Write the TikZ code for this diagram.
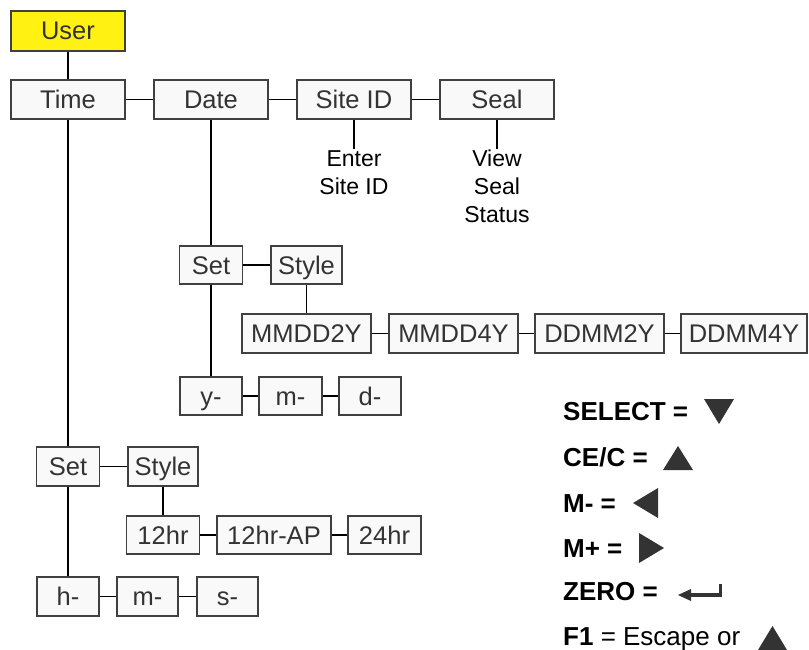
\documentclass[tikz,border=0pt]{standalone}
\usepackage{fontspec}
\setmainfont{Liberation Sans}
\definecolor{Ink}{HTML}{333333}
\definecolor{Frame}{HTML}{404040}
\definecolor{Paper}{HTML}{F9F9F9}
\definecolor{Flag}{HTML}{FFF212}
\tikzset{
  menubox/.style={draw=Frame,fill=Paper,text=Ink,line width=1.3pt,inner sep=0pt,
    minimum height=38,text height=18pt,text depth=0pt,font=\fontsize{25.5}{30}\selectfont},
  link/.style={line width=1.6pt,draw=black},
  notetext/.style={align=center,inner sep=1pt,font=\fontsize{23}{28}\selectfont},
  keytext/.style={anchor=west,inner sep=0pt,text height=18pt,text depth=0pt,
    font=\fontsize{26}{30}\selectfont},
  keymark/.style={fill=Ink,draw=none},
}

\begin{document}
\begin{tikzpicture}[x=1pt,y=-1pt]
    \useasboundingbox (0,0) rectangle (809,650);
    \fill[white] (0,0) rectangle (809,650);

    % top level
    \node[menubox,minimum width=114,minimum height=40,fill=Flag] (user) at (68,31) {User};
    \node[menubox,minimum width=114,minimum height=39] (time) at (68,99.5) {Time};
    \node[menubox,minimum width=114,minimum height=39] (date) at (211,99.5) {Date};
    \node[menubox,minimum width=114,minimum height=39] (site) at (354,99.5) {Site ID};
    \node[menubox,minimum width=114,minimum height=39] (seal) at (497,99.5) {Seal};
    \node[notetext,anchor=north] (enter) at (354,149) {Enter\\Site ID};
    \node[notetext,anchor=north] (view) at (497,149) {View\\Seal\\Status};

    % date branch
    \node[menubox,minimum width=63] (dset) at (211,265) {Set};
    \node[menubox,minimum width=71] (dstyle) at (306.5,265) {Style};
    \node[menubox,minimum width=129,minimum height=39] (mmdd2y) at (306.5,333.5) {MMDD2Y};
    \node[menubox,minimum width=129,minimum height=39] (mmdd4y) at (453.5,333.5) {MMDD4Y};
    \node[menubox,minimum width=129,minimum height=39] (ddmm2y) at (599.5,333.5) {DDMM2Y};
    \node[menubox,minimum width=126,minimum height=39] (ddmm4y) at (744,333.5) {DDMM4Y};
    \node[menubox,minimum width=62] (dyear) at (211,396) {y-};
    \node[menubox,minimum width=63] (dmonth) at (290.5,396) {m-};
    \node[menubox,minimum width=62] (dday) at (370,396) {d-};

    % time branch
    \node[menubox,minimum width=63,minimum height=39] (tset) at (68,466.5) {Set};
    \node[menubox,minimum width=70,minimum height=39] (tstyle) at (163,466.5) {Style};
    \node[menubox,minimum width=73] (hr12) at (163,535) {12hr};
    \node[menubox,minimum width=114] (hr12ap) at (274,535) {12hr-AP};
    \node[menubox,minimum width=73] (hr24) at (384.5,535) {24hr};
    \node[menubox,minimum width=62,minimum height=39] (thour) at (68,596.5) {h-};
    \node[menubox,minimum width=61,minimum height=39] (tmin) at (147.5,596.5) {m-};
    \node[menubox,minimum width=61,minimum height=39] (tsec) at (227.5,596.5) {s-};

    \draw[link] (user) -- (time);
    \draw[link] (time) -- (date);
    \draw[link] (date) -- (site);
    \draw[link] (site) -- (seal);
    \draw[link] (site) -- (enter);
    \draw[link] (seal) -- (view);
    \draw[link] (date) -- (dset);
    \draw[link] (dset) -- (dstyle);
    \draw[link] (dstyle) -- (mmdd2y);
    \draw[link] (mmdd2y) -- (mmdd4y);
    \draw[link] (mmdd4y) -- (ddmm2y);
    \draw[link] (ddmm2y) -- (ddmm4y);
    \draw[link] (dset) -- (dyear);
    \draw[link] (dyear) -- (dmonth);
    \draw[link] (dmonth) -- (dday);
    \draw[link] (time) -- (tset);
    \draw[link] (tset) -- (tstyle);
    \draw[link] (tstyle) -- (hr12);
    \draw[link] (hr12) -- (hr12ap);
    \draw[link] (hr12ap) -- (hr24);
    \draw[link] (tset) -- (thour);
    \draw[link] (thour) -- (tmin);
    \draw[link] (tmin) -- (tsec);

    % key
    \node[keytext] (kselect) at (563,411) {\textbf{SELECT =}};
    \node[keytext] (kcec) at (563,457) {\textbf{CE/C =}};
    \node[keytext] (kminus) at (563,503) {\textbf{M- =}};
    \node[keytext] (kplus) at (563,548) {\textbf{M+ =}};
    \node[keytext] (kzero) at (563,591) {\textbf{ZERO =}};
    \node[keytext] (kfone) at (563,636) {\textbf{F1} = Escape or};
    \fill[keymark] (704,399) -- (734,399) -- (719,424) -- cycle;
    \fill[keymark] (663,470) -- (693,470) -- (678,446) -- cycle;
    \fill[keymark] (633,503) -- (658,488) -- (658,518) -- cycle;
    \fill[keymark] (639,533) -- (639,563) -- (664,548) -- cycle;
    \draw[Ink,line width=3.5pt] (689,595) -- (720.5,595) -- (720.5,584);
    \fill[keymark] (678,595) -- (691,589) -- (691,601) -- cycle;
    \fill[keymark] (758,650) -- (787,650) -- (772.5,626) -- cycle;
  \end{tikzpicture}
\end{document}
